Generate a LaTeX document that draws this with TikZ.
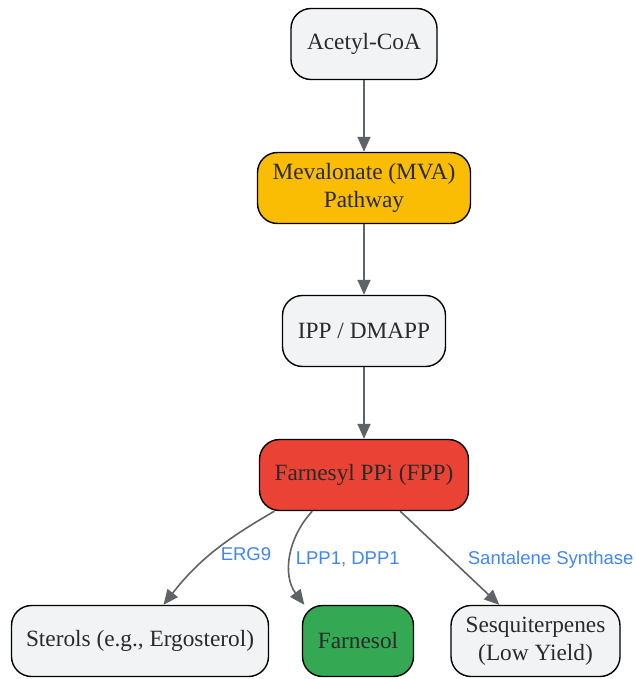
\documentclass[tikz,border=0pt]{standalone}
\usepackage{fontspec}
\setmainfont{Liberation Serif}
\newfontfamily\labelfont{Liberation Sans}
\usepackage{tikz}
\definecolor{boxgray}{HTML}{F1F3F4}
\definecolor{mvayellow}{HTML}{FBBC04}
\definecolor{fppred}{HTML}{EA4335}
\definecolor{farngreen}{HTML}{34A853}
\definecolor{edgegray}{HTML}{5F6368}
\definecolor{enzblue}{HTML}{4285F4}
\definecolor{textgray}{HTML}{2A2A2A}
\usetikzlibrary{arrows.meta}
\tikzset{%
  metab/.style={draw, rectangle, rounded corners=20pt, line width=1.4pt, fill=boxgray,
    minimum height=71pt, align=center, text=textgray,
    font=\fontsize{23.3}{28}\selectfont},% metabolite box
  flow/.style={draw=edgegray, line width=1.6pt, -{Triangle[length=15pt,width=13pt]}},% reaction arrow
  enzyme/.style={text=enzblue, font=\labelfont\fontsize{18.5}{20}\selectfont, anchor=west}% enzyme label
}

\begin{document}
\begin{tikzpicture}[x=1pt,y=1pt]
\useasboundingbox (0,0) rectangle (636,-679);
\node[metab, minimum width=146pt] (acetyl) at (364,-44) {Acetyl-CoA};
\node[metab, minimum width=213pt, fill=mvayellow] (mva) at (364,-188) {Mevalonate (MVA)\\Pathway};
\node[metab, minimum width=163pt] (ipp) at (364,-331) {IPP / DMAPP};
\node[metab, minimum width=209pt, fill=fppred] (fpp) at (364,-475) {Farnesyl PPi (FPP)};
\node[metab, minimum width=257pt] (sterols) at (140,-641) {Sterols (e.g., Ergosterol)};
\node[metab, minimum width=111pt, fill=farngreen] (farnesol) at (358,-641) {Farnesol};
\node[metab, minimum width=169pt] (sesqui) at (535.5,-641) {Sesquiterpenes\\(Low Yield)};

\draw[flow] (acetyl) -- (mva);
\draw[flow] (mva) -- (ipp);
\draw[flow] (ipp) -- (fpp);
\draw[flow] (fpp.-158) to[out=-150, in=52] node[enzyme, pos=0.5, xshift=3pt, yshift=-2pt] {ERG9} (sterols.57);
\draw[flow] (fpp.-145) to[out=-133, in=127] node[enzyme, pos=0.5, xshift=1pt, yshift=-2pt] {LPP1, DPP1} (farnesol.146);
\draw[flow] (fpp.-45) -- node[enzyme, pos=0.5, xshift=14pt, yshift=-2pt] {Santalene Synthase} (sesqui.135);
\end{tikzpicture}
\end{document}
